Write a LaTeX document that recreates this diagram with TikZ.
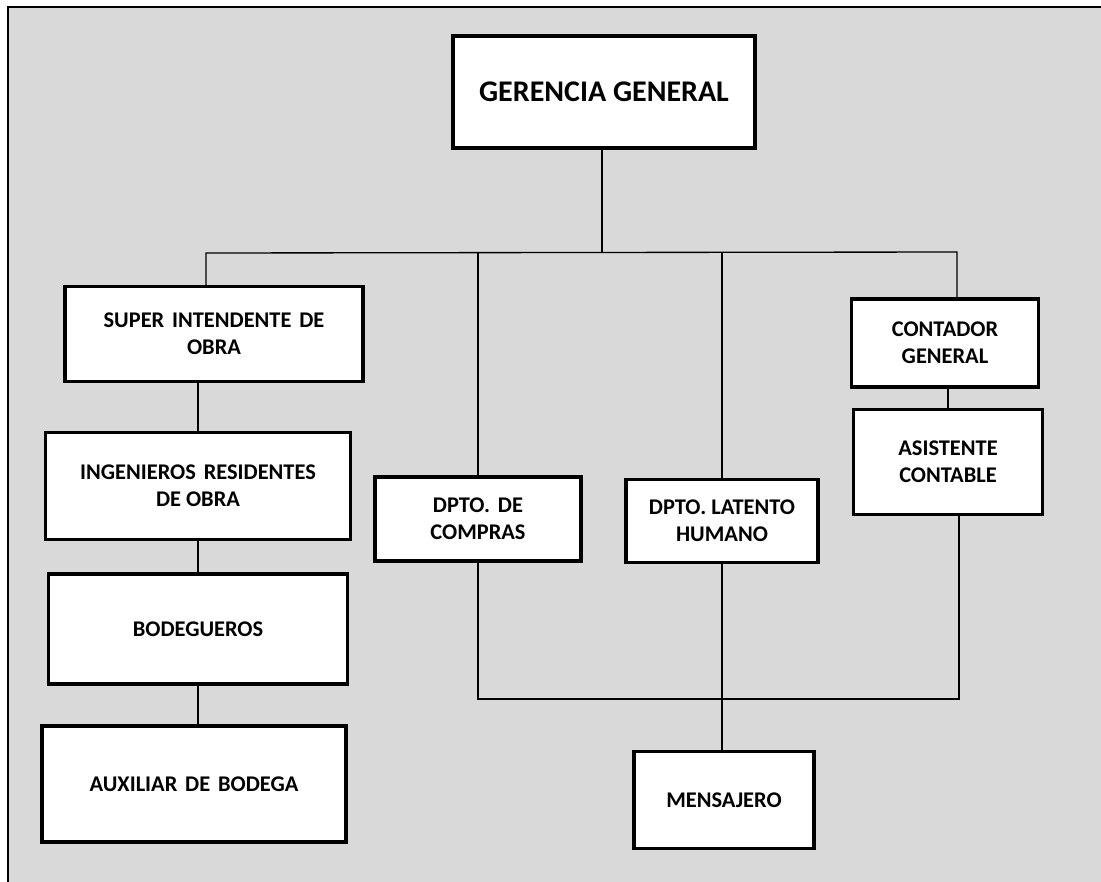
\documentclass[tikz,border=0pt]{standalone}
\usepackage{fontspec}
\setmainfont{Carlito}
\usetikzlibrary{calc}
\definecolor{fondo}{HTML}{D9D9D9}
\newcommand{\px}{0.75pt}
\newcommand{\wsp}{\hspace{0.35em}}
\tikzstyle{cargo} = [draw,line width=2.6pt,fill=white,align=center,inner sep=0pt,font=\fontsize{16.8}{20.5}\selectfont\bfseries]
\tikzstyle{enlace} = [line width=1pt]

\begin{document}
\begin{tikzpicture}[x=0.75pt,y=-0.75pt]
			\useasboundingbox (0,0) rectangle (1101,882);
			\fill[fondo] (8,7) rectangle (1101,882);
			\draw[line width=1.6pt] (8,882) -- (8,7) -- (1101,7);
			
			\node[cargo,minimum width=302*\px,minimum height=112*\px,font=\fontsize{22.5}{26}\selectfont\bfseries] (ger) at (604,92) {GERENCIA GENERAL};
			
			\node[cargo,minimum width=298*\px,minimum height=95*\px] (sup) at (214,334) {SUPER\wsp INTENDENTE\wsp DE\\OBRA};
			\node[cargo,minimum width=305*\px,minimum height=107*\px] (ing) at (198,486) {INGENIEROS\wsp RESIDENTES\\DE OBRA};
			\node[cargo,minimum width=299*\px,minimum height=110*\px] (bod) at (198,629) {BODEGUEROS};
			\node[cargo,minimum width=304*\px,minimum height=116*\px] (aux) at (194,784) {AUXILIAR\wsp DE\wsp BODEGA};
			
			\node[cargo,minimum width=206*\px,minimum height=84*\px] (com) at (478,519) {DPTO.\wsp DE\\COMPRAS};
			\node[cargo,minimum width=192*\px,minimum height=83*\px] (lat) at (722,521) {DPTO. LATENTO\\HUMANO};
			\node[cargo,minimum width=180*\px,minimum height=97*\px] (men) at (724,800) {MENSAJERO};
			
			\node[cargo,minimum width=187*\px,minimum height=88*\px] (con) at (945,343) {CONTADOR\\GENERAL};
			\node[cargo,minimum width=189*\px,minimum height=105*\px] (asi) at (948,462) {ASISTENTE\\CONTABLE};
			
			% barra principal
			\coordinate (top) at (602,252);
			\coordinate (busl) at (206,253);
			\coordinate (busr) at (957,252);
			\draw[enlace] (top |- ger.south) -- (top);
			\draw[enlace] (busl |- sup.north) -- (busl) -- (busr) -- (busr |- con.north);
			\draw[enlace] (com.north) -- (com.north |- top);
			\draw[enlace] (lat.north) -- (lat.north |- top);
			
			\draw[enlace] (ing.north) -- (ing.north |- sup.south);
			\draw[enlace] (bod.north) -- (bod.north |- ing.south);
			\draw[enlace] (bod.south) -- (bod.south |- aux.north);
			\draw[enlace] (asi.north) -- (asi.north |- con.south);
			\draw[enlace] (lat.south) -- (lat.south |- men.north);
			
			\coordinate (brk) at (959,699);
			\draw[enlace] (com.south) |- (brk) -- (brk |- asi.south);
		\end{tikzpicture}
\end{document}
